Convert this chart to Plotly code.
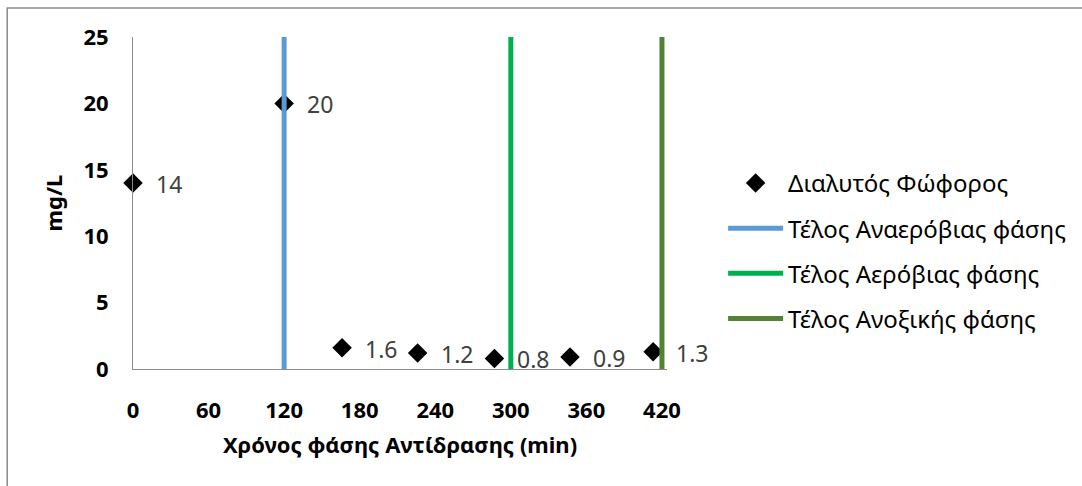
import plotly.graph_objects as go

# Dissolved phosphorus over the reaction phase
time_min = [0, 120, 166, 226, 287, 347, 413]
phosphorus = [14, 20, 1.6, 1.2, 0.8, 0.9, 1.3]
label_text = ["14", "20", "1.6", "1.2", "0.8", "0.9", "1.3"]

# Phase end markers
phase_names = ["Τέλος Αναερόβιας φάσης", "Τέλος Αερόβιας φάσης", "Τέλος Ανοξικής φάσης"]
phase_times = [120, 300, 420]
phase_colors = ["#5B9BD5", "#00B050", "#548235"]

x_ticks = [0, 60, 120, 180, 240, 300, 360, 420]
y_ticks = [0, 5, 10, 15, 20, 25]

FONT = "Noto Sans"

fig = go.Figure()

fig.add_trace(go.Scatter(
    x=time_min, y=phosphorus, mode="markers", name="Διαλυτός Φώφορος",
    marker=dict(symbol="diamond", size=15, color="black"),
    legendgroup="p", cliponaxis=False,
))

for name, t, c in zip(phase_names, phase_times, phase_colors):
    fig.add_trace(go.Scatter(
        x=[t, t], y=[0, 25], mode="lines", name=name,
        line=dict(color=c, width=5), legendgroup=name, cliponaxis=False,
    ))

for x, y, s in zip(time_min, phosphorus, label_text):
    fig.add_annotation(
        x=x, y=y, text=s, showarrow=False, xanchor="left", yanchor="middle",
        xshift=21, yshift=-1, font=dict(family=FONT, size=23, color="#404040"),
    )

# outer chart border
fig.add_shape(type="rect", xref="paper", yref="paper",
              x0=-0.2355, x1=1.9, y0=-0.5, y1=1.0873,
              line=dict(color="#8c8c8c", width=1.5), layer="below")

fig.update_layout(
    width=1082, height=486,
    margin=dict(l=133, r=414, t=37, b=117),
    paper_bgcolor="white", plot_bgcolor="white",
    font=dict(family=FONT, color="black"),
    showlegend=True,
    legend=dict(
        x=1.103, y=0.627, xanchor="left", yanchor="top",
        font=dict(family=FONT, size=24, color="black"),
        tracegroupgap=11, itemwidth=55, bgcolor="rgba(0,0,0,0)",
    ),
    xaxis=dict(
        range=[0, 424], tickvals=x_ticks, ticktext=[str(v) for v in x_ticks],
        showgrid=False, zeroline=False, showline=True, linecolor="#8c8c8c", linewidth=1,
        ticks="", ticklabelstandoff=22,
        tickfont=dict(family=FONT, size=22, color="black", weight="bold"),
        title=dict(text="<b>Χρόνος φάσης Αντίδρασης (min)</b>",
                   font=dict(family=FONT, size=22, color="black"), standoff=14),
    ),
    yaxis=dict(
        range=[0, 25], tickvals=y_ticks, showgrid=False, zeroline=False,
        showline=True, linecolor="#8c8c8c", linewidth=1,
        ticks="", ticklabelstandoff=19,
        tickfont=dict(family=FONT, size=22, color="black", weight="bold"),
        title=dict(text="<b>mg/L</b>", font=dict(family=FONT, size=22, color="black"),
                   standoff=14),
    ),
)

fig.write_html("out.html")
